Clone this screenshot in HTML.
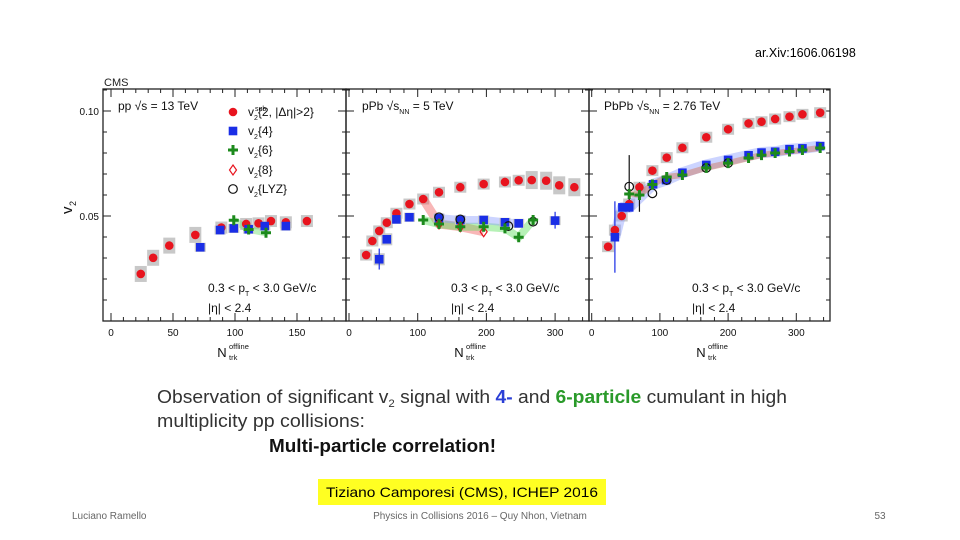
<!DOCTYPE html>
<html><head><meta charset="utf-8"><style>
html,body{margin:0;padding:0;background:#fff;}
svg{display:block;font-family:"Liberation Sans",sans-serif;}
</style></head><body>
<svg id="s" width="960" height="540" viewBox="0 0 960 540">
<text x="755" y="57" font-size="12.5" fill="#000">ar.Xiv:1606.06198</text>
<text x="104" y="86" font-size="11" fill="#222">CMS</text>
<g id="chart"></g>
<text x="157" y="403" font-size="18.5" textLength="630" lengthAdjust="spacingAndGlyphs" fill="#333">Observation of significant v<tspan font-size="11" dy="4">2</tspan><tspan dy="-4"> signal with </tspan><tspan fill="#2b3fd6" font-weight="bold">4-</tspan> and <tspan fill="#2a9a2a" font-weight="bold">6-particle</tspan> cumulant in high</text>
<text x="157" y="427" font-size="18.5" textLength="208" lengthAdjust="spacingAndGlyphs" fill="#333">multiplicity pp collisions:</text>
<text x="269" y="452" font-size="18.5" font-weight="bold" textLength="227" lengthAdjust="spacingAndGlyphs" fill="#111">Multi-particle correlation!</text>
<rect x="318" y="479" width="288" height="26" fill="#ffff22"/>
<text x="462" y="497" font-size="14" text-anchor="middle" textLength="272" lengthAdjust="spacingAndGlyphs" fill="#000">Tiziano Camporesi (CMS), ICHEP 2016</text>
<text x="72" y="519" font-size="10" fill="#666">Luciano Ramello</text>
<text x="480" y="519" font-size="10" fill="#666" text-anchor="middle">Physics in Collisions 2016 – Quy Nhon, Vietnam</text>
<text x="880" y="519" font-size="10" fill="#666" text-anchor="middle">53</text>
</svg>
<script>
// ---- data ----
const ppRedN=[24,34,47,68,89,109,119,129,141,158];
const ppRedV=[0.0224,0.0301,0.0359,0.041,0.0445,0.0462,0.0465,0.0476,0.047,0.0476];
const ppBlueN=[72,88,99,111,124,141];
const ppBlueV=[0.0351,0.0433,0.0441,0.0437,0.0452,0.0452];
const ppGreenN=[99,111,125];
const ppGreenV=[0.048,0.0436,0.042];

const pbRedN=[25,34,44,55,69,88,108,131,162,196,227,247,266,287,306,328];
const pbRedV=[0.0314,0.0381,0.0429,0.0468,0.0513,0.0557,0.0581,0.0613,0.0637,0.0652,0.0662,0.067,0.0671,0.0668,0.0646,0.0637];
const pbBlueN=[44,55,69,88,131,162,196,227,247,300];
const pbBlueV=[0.0294,0.0389,0.0484,0.0494,0.049,0.0481,0.0481,0.047,0.0465,0.0478];
const pbGreenN=[108,131,162,196,227,247,268];
const pbGreenV=[0.0481,0.0462,0.0449,0.0449,0.0441,0.0399,0.0481];
const pb8N=[131,162,196];
const pb8V=[0.0462,0.0449,0.0425];
const pbLyzN=[131,162,232,268];
const pbLyzV=[0.0494,0.0484,0.0452,0.0473];

const aaRedN=[24,34,44,55,70,89,110,133,168,200,230,249,269,290,309,335];
const aaRedV=[0.0354,0.0433,0.05,0.0557,0.0637,0.0716,0.0778,0.0825,0.0875,0.0913,0.0941,0.0949,0.0962,0.0973,0.0984,0.0992];
const aaBlueN=[34,45,55,90,109,133,168,200,230,249,269,290,309,335];
const aaBlueV=[0.0399,0.0541,0.0541,0.0651,0.0671,0.0706,0.0743,0.0767,0.0789,0.0802,0.0806,0.0818,0.0822,0.0833];
const aaGreenN=[55,70,89,110,133,168,200,230,249,269,290,309,335];
const aaGreenV=[0.0605,0.06,0.065,0.0686,0.0695,0.0729,0.0752,0.0776,0.079,0.08,0.0807,0.0814,0.0824];
const aaLyzN=[55,89,110,168,200];
const aaLyzV=[0.064,0.0608,0.0671,0.0729,0.0752];

const yTicks=[0.05,0.10];
const yTickLabels=["0.05","0.10"];
const ppXTicks=[0,50,100,150];
const wideXTicks=[0,100,200,300];

// ---- layout ----
const NS="http://www.w3.org/2000/svg";
const g=document.getElementById('chart');
const TOP=89,BOT=321;
const panels=[
 {l:103,r:346,x0:111,s:1.24},
 {l:346,r:589,x0:349,s:0.687},
 {l:589,r:830,x0:591.7,s:0.682}];
function Y(v){return BOT-v*2100;}
function mk(tag,at,parent){const e=document.createElementNS(NS,tag);for(const k in at)e.setAttribute(k,at[k]);(parent||g).appendChild(e);return e;}
function txt(x,y,str,size,anchor,parent){const t=mk('text',{x:x,y:y,'font-size':size,'text-anchor':anchor||'start',fill:'#111'},parent);t.textContent=str;return t;}
// rich text: parts = [string, fontSize, dy]
function rich(x,y,parts,parent){const t=mk('text',{x:x,y:y,fill:'#111'},parent);
 parts.forEach(p=>{const s=document.createElementNS(NS,'tspan');s.setAttribute('font-size',p[1]);if(p[2])s.setAttribute('dy',p[2]);if(p[3]!==undefined)s.setAttribute('dx',p[3]);s.textContent=p[0];t.appendChild(s);});
 return t;}

panels.forEach((p,i)=>{
 const X=n=>p.x0+n*p.s;
 const fr=mk('rect',{x:p.l,y:TOP,width:p.r-p.l,height:BOT-TOP,fill:'none',stroke:'#222','stroke-width':1.3});
 
 
 for(let k=1;k<=11;k++){
  const v=k/100,y=Y(v); const major=(k%5===0);
  const L=major?8:4;
  mk('line',{x1:p.l,x2:p.l+L,y1:y,y2:y,stroke:'#222','stroke-width':1});
  mk('line',{x1:p.r,x2:p.r-L,y1:y,y2:y,stroke:'#222','stroke-width':1});
 }
 const ticks=i==0?ppXTicks:wideXTicks;
 const minorStep=i==0?10:20;
 for(let n=0;;n+=minorStep){const x=X(n);if(x>p.r-1)break;const major=ticks.indexOf(n)>=0;const L=major?8:4;
  mk('line',{x1:x,x2:x,y1:BOT,y2:BOT-L,stroke:'#222','stroke-width':1});
  mk('line',{x1:x,x2:x,y1:TOP,y2:TOP+L,stroke:'#222','stroke-width':1});}
 ticks.forEach(n=>{const t=txt(X(n),336,String(n),10,'middle');
  
  });
 const cx=[228,465,707][i];
 const at=txt(cx-6,357,'N',13,'middle');
 
 
 txt(cx+1,349,'offline',7.5,'start');txt(cx+1,360,'trk',7.5,'start');
 const ax=[208,451,692][i];
 const a1=rich(ax,292,[['0.3 < p',12],['T',7,4],[' < 3.0 GeV/c',12,-4]]);
 
 
 const a2=txt(ax,312,'|η| < 2.4',12);
 
 
});
yTicks.forEach((v,i)=>{const t=txt(99,Y(v)+4,yTickLabels[i],10,'end');
 
 });
const yt=mk('text',{x:0,y:0,'font-size':15,fill:'#111',transform:'translate(72,214) rotate(-90)'});
yt.textContent='v';


mk('text',{x:0,y:0,'font-size':9,fill:'#111',transform:'translate(76,206) rotate(-90)'}).textContent='2';

// titles
const t1=rich(118,110,[['pp √s = 13 TeV',12]]);


const t2=rich(362,110,[['pPb √s',12],['NN',7,4],[' = 5 TeV',12,-4]]);


const t3=rich(604,110,[['PbPb √s',12],['NN',7,4],[' = 2.76 TeV',12,-4]]);



// markers
function sysBox(p,n,v,w,h){mk('rect',{x:p.x0+n*p.s-w/2,y:Y(v)-h/2,width:w,height:h,fill:'#c8c8c8'});}
function red(p,n,v){const c=mk('circle',{cx:p.x0+n*p.s,cy:Y(v),r:4.3,fill:'#e8141e'});
 
 }
function blue(p,n,v){const r=mk('rect',{x:p.x0+n*p.s-4.3,y:Y(v)-4.3,width:8.6,height:8.6,fill:'#1a2ee6'});
 
 }
function green(p,n,v){const x=p.x0+n*p.s,y=Y(v);const e=mk('path',{d:`M${x-5},${y}H${x+5}M${x},${y-5}V${y+5}`,stroke:'#1c8a1c','stroke-width':3});
 
 }
function diam(p,n,v){const x=p.x0+n*p.s,y=Y(v);const e=mk('path',{d:`M${x},${y-5}L${x+3.5},${y}L${x},${y+5}L${x-3.5},${y}Z`,fill:'none',stroke:'#e8141e','stroke-width':1.2});
 
 }
function circ(p,n,v){const e=mk('circle',{cx:p.x0+n*p.s,cy:Y(v),r:4.3,fill:'none',stroke:'#111','stroke-width':1.2});
 
 }
function band(p,N,V,col,w){const d=N.map((n,i)=>(i?'L':'M')+(p.x0+n*p.s)+','+Y(V[i])).join('');
 const e=mk('path',{d:d,fill:'none',stroke:col,'stroke-width':w,'stroke-linejoin':'round',opacity:0.45});
 
 }
function errbar(p,n,v1,v2,col){const x=p.x0+n*p.s;mk('line',{x1:x,x2:x,y1:Y(v1),y2:Y(v2),stroke:col,'stroke-width':1.2});}

const [P1,P2,P3]=panels;
ppRedN.forEach((n,i)=>sysBox(P1,n,ppRedV[i],12,(i<4?16:12)));
band(P1,ppGreenN,ppGreenV,'#6ee06e',7);
ppBlueN.forEach((n,i)=>sysBox(P1,n,ppBlueV[i],11,9));
ppRedN.forEach((n,i)=>red(P1,n,ppRedV[i]));
ppBlueN.forEach((n,i)=>blue(P1,n,ppBlueV[i]));
ppGreenN.forEach((n,i)=>green(P1,n,ppGreenV[i]));

pbRedN.forEach((n,i)=>sysBox(P2,n,pbRedV[i],12,(i>11?18:11)));
band(P2,[108].concat(pb8N),[0.0581].concat(pb8V),'#f06060',9);
band(P2,pbGreenN,pbGreenV,'#5ee05e',8);
band(P2,pbBlueN.slice(4,9),pbBlueV.slice(4,9),'#8fa0ff',8);
pbBlueN.forEach((n,i)=>sysBox(P2,n,pbBlueV[i],11,(i<2?12:9)));
errbar(P2,44,0.0245,0.0345,'#1a2ee6');errbar(P2,300,0.044,0.052,'#1a2ee6');
pbRedN.forEach((n,i)=>red(P2,n,pbRedV[i]));
pbBlueN.forEach((n,i)=>blue(P2,n,pbBlueV[i]));
pbLyzN.forEach((n,i)=>circ(P2,n,pbLyzV[i]));
pb8N.forEach((n,i)=>diam(P2,n,pb8V[i]));
pbGreenN.forEach((n,i)=>green(P2,n,pbGreenV[i]));

aaRedN.forEach((n,i)=>sysBox(P3,n,aaRedV[i],12,11));
band(P3,aaBlueN,aaBlueV,'#8fa0ff',11);
band(P3,aaGreenN,aaGreenV,'#d07050',6);
errbar(P3,34,0.023,0.057,'#1a2ee6');
errbar(P3,55,0.052,0.079,'#111');
errbar(P3,70,0.052,0.066,'#111');
aaRedN.forEach((n,i)=>red(P3,n,aaRedV[i]));
aaBlueN.forEach((n,i)=>blue(P3,n,aaBlueV[i]));
aaLyzN.forEach((n,i)=>circ(P3,n,aaLyzV[i]));
aaGreenN.forEach((n,i)=>green(P3,n,aaGreenV[i]));

// legend
const lg=mk('g',{});


const lx=233, rows=[112,131,150,170,189];
mk('circle',{cx:lx,cy:rows[0],r:4.3,fill:'#e8141e'},lg);
mk('rect',{x:lx-4.3,y:rows[1]-4.3,width:8.6,height:8.6,fill:'#1a2ee6'},lg);
mk('path',{d:`M${lx-5},${rows[2]}H${lx+5}M${lx},${rows[2]-5}V${rows[2]+5}`,stroke:'#1c8a1c','stroke-width':3},lg);
mk('path',{d:`M${lx},${rows[3]-5}L${lx+3.5},${rows[3]}L${lx},${rows[3]+5}L${lx-3.5},${rows[3]}Z`,fill:'none',stroke:'#e8141e','stroke-width':1.2},lg);
mk('circle',{cx:lx,cy:rows[4],r:4.3,fill:'none',stroke:'#111','stroke-width':1.2},lg);
const lab=['{2, |Δη|>2}','{4}','{6}','{8}','{LYZ}'];
rows.forEach((y,i)=>{
 const e=rich(248,y+4,[['v',12],['2',7,4],[lab[i],12,-4]],lg);
 
 
 if(i==0) txt(255,y-1,'sub',7,'start',lg);
});
</script>
</body></html>
